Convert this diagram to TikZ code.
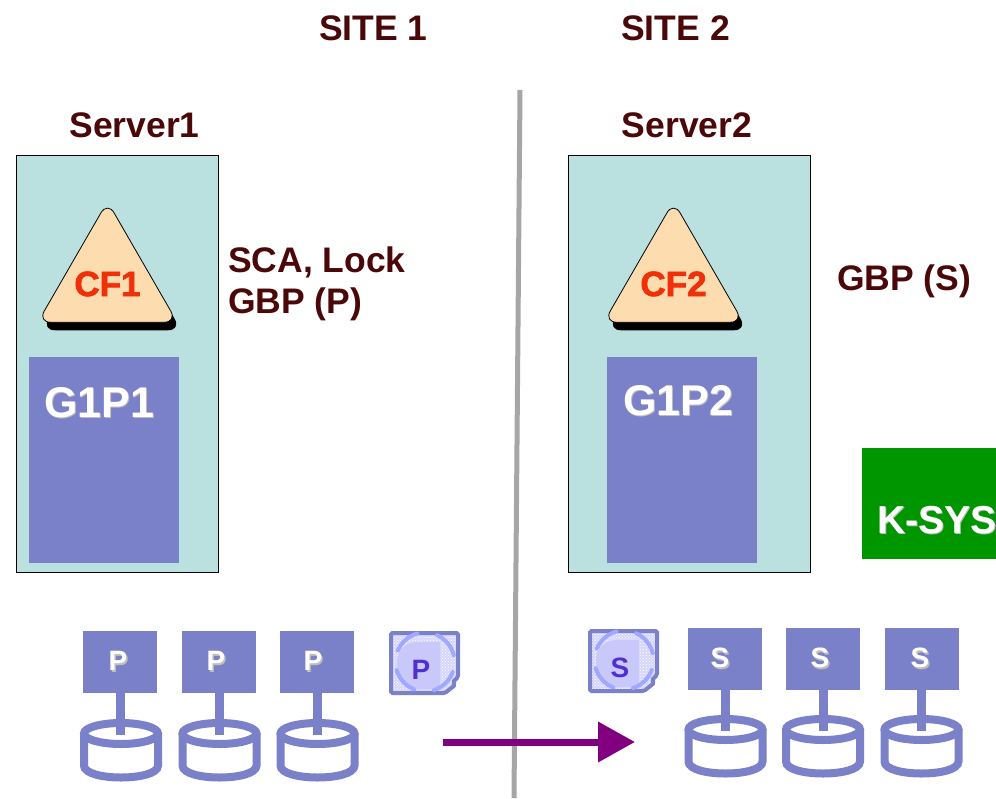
\documentclass[tikz,border=0pt]{standalone}
\usepackage{fontspec}
\setmainfont{Liberation Sans}
\usepackage{xcolor}
\usetikzlibrary{shapes.geometric,arrows.meta,shadows,patterns}

\definecolor{darkred}{HTML}{4A0808}
\definecolor{paleteal}{HTML}{BAE0E0}
\definecolor{slateblue}{HTML}{7B81C8}
\definecolor{peach}{HTML}{FDDCB0}
\definecolor{cfred}{HTML}{F03008}
\definecolor{kgreen}{HTML}{009600}
\definecolor{lilac}{HTML}{C8C8FA}
\definecolor{ringblue}{HTML}{A0A8FF}
\definecolor{inkblue}{HTML}{5030D0}
\definecolor{syncpurple}{HTML}{800080}

\newcommand{\embossed}[1]{\rlap{\kern1.5pt\raisebox{-1.5pt}{\textcolor{black!25}{#1}}}\textcolor{white}{#1}}
\newcommand{\cftext}[1]{\raisebox{-14pt}[0pt][0pt]{\makebox[0pt]{#1}}}
\newcommand{\copyicon}[3]{%
\begin{scope}[shift={#1}]
\fill[lilac!75] (0,0) -- (67,0) -- (67,44) -- (62,49) -- (64,52) -- (54,60) -- (0,60) -- cycle;
\path[pattern=crosshatch dots,pattern color=white] (0,0) -- (67,0) -- (67,44) -- (62,49) -- (64,52) -- (54,60) -- (0,60) -- cycle;
\fill[lilac] (49,9) [rounded corners=20] -- (6,9) -- (6,56) [sharp corners] -- (49,56) -- cycle;
\draw[slateblue,line width=4,rounded corners=1.5] (0,0) -- (67,0) -- (67,44) -- (62,49) -- (64,52) -- (54,60) -- (0,60) -- cycle;
\draw[ringblue,line width=4,line cap=round,dash pattern=on 27pt off 20.1pt,dash phase=37pt] (34,29) circle (29.5);
\node[anchor=base,inner sep=0,font=\bfseries\fontsize{28}{28}\selectfont,text=inkblue] (#2) at (30,46) {#3};
\end{scope}}
\newcommand{\volumedisk}[2]{%
\begin{scope}[shift={#2}]
\filldraw[diskline] (-37,0) -- (-37,32) .. controls (-37,48) and (37,48) .. (37,32) -- (37,0);
\filldraw[diskline] (0,0) ellipse (37 and 10.5);
\coordinate (#1) at (0,1.5);
\end{scope}}

\tikzset{
	title/.style={anchor=base,inner sep=0,text=darkred,font=\bfseries\fontsize{35.5}{35.5}\selectfont},
	note/.style={title,anchor=base west},
	server/.style={draw=black,line width=1.2,fill=paleteal,anchor=north west,inner sep=0},
	member/.style={fill=slateblue,anchor=north west,inner sep=0,minimum width=150,minimum height=206},
	facility/.style={regular polygon,regular polygon sides=3,minimum size=161,inner sep=0,draw=black,line width=.8,
		fill=peach,rounded corners=13,text=cfred,font=\bfseries\fontsize{35}{35}\selectfont\addfontfeature{FakeBold=2},
		drop shadow={shadow xshift=4pt,shadow yshift=-8pt,fill=black,opacity=1}},
	volume/.style={fill=slateblue,minimum width=74,minimum height=62,inner sep=0,
		text=white,font=\bfseries\fontsize{28}{28}\selectfont},
	diskline/.style={draw=slateblue,fill=white,line width=8},
	stem/.style={draw=slateblue,line width=9}
}

\begin{document}
\begin{tikzpicture}[x=1pt,y=-1pt]
\useasboundingbox (0,0) rectangle (996,798);

% headings
\node[title] (site1) at (373.5,40) {SITE 1};
\node[title] (site2) at (675.5,40) {SITE 2};
\node[title] (srv1) at (134.5,137) {Server1};
\node[title] (srv2) at (687,137) {Server2};

\coordinate (divtop) at (520,90);
\coordinate (divbot) at (514,798);
\draw[black!35,line width=5] (divtop) -- (divbot);

% server boxes
\node[server,minimum width=202,minimum height=417] (box1) at (16,155) {};
\node[server,minimum width=242,minimum height=417] (box2) at (568,155) {};
\node[member] (g1p1) at (29,357) {};
\node[member] (g1p2) at (607,357) {};
\node[anchor=base,inner sep=0,font=\bfseries\fontsize{43}{43}\selectfont] (g1p1t) at (99,417) {\embossed{G1P1}};
\node[anchor=base,inner sep=0,font=\bfseries\fontsize{43}{43}\selectfont] (g1p2t) at (678,415) {\embossed{G1P2}};
\node[facility] (cf1) at (107.5,282) {\cftext{CF1}};
\node[facility] (cf2) at (673.5,282) {\cftext{CF2}};

\node[note] (sca) at (228,272) {SCA, Lock};
\node[note] (gbpp) at (228,313) {GBP (P)};
\node[note] (gbps) at (837,290) {GBP (S)};

\node[fill=kgreen,anchor=north west,minimum width=134,minimum height=111,inner sep=0] (ksys) at (862,448) {};
\node[anchor=base west,inner sep=0,font=\bfseries\fontsize{39}{39}\selectfont] (ksyst) at (877,533) {\embossed{K-SYS}};

% primary volumes
\node[volume] (p1) at (120,662) {\embossed{P}\kern4pt};
\node[volume] (p2) at (219,662) {\embossed{P}\kern6pt};
\node[volume] (p3) at (317,662) {\embossed{P}\kern8pt};
\volumedisk{dp1}{(121,733.5)}
\volumedisk{dp2}{(219.5,733.5)}
\volumedisk{dp3}{(317.5,733.5)}
\draw[stem] (p1.south) -- (p1.south |- dp1);
\draw[stem] (p2.south) -- (p2.south |- dp2);
\draw[stem] (p3.south) -- (p3.south |- dp3);
\copyicon{(391,633)}{copyp}{P}

% secondary volumes
\node[volume] (s1) at (725,659) {\embossed{S}\kern10pt};
\node[volume] (s2) at (823,659) {\embossed{S}\kern6pt};
\node[volume] (s3) at (921.5,659) {\embossed{S}\kern3pt};
\volumedisk{ds1}{(725.5,729.5)}
\volumedisk{ds2}{(823,729.5)}
\volumedisk{ds3}{(921.5,729.5)}
\draw[stem] (s1.south) -- (s1.south |- ds1);
\draw[stem] (s2.south) -- (s2.south |- ds2);
\draw[stem] (s3.south) -- (s3.south |- ds3);
\copyicon{(590,631)}{copys}{S}

\coordinate (syncfrom) at (443,742);
\coordinate (syncto) at (635,742);
\draw[-{Triangle[length=37,width=39]},line width=7,color=syncpurple] (syncfrom) -- (syncto);
\end{tikzpicture}
\end{document}
